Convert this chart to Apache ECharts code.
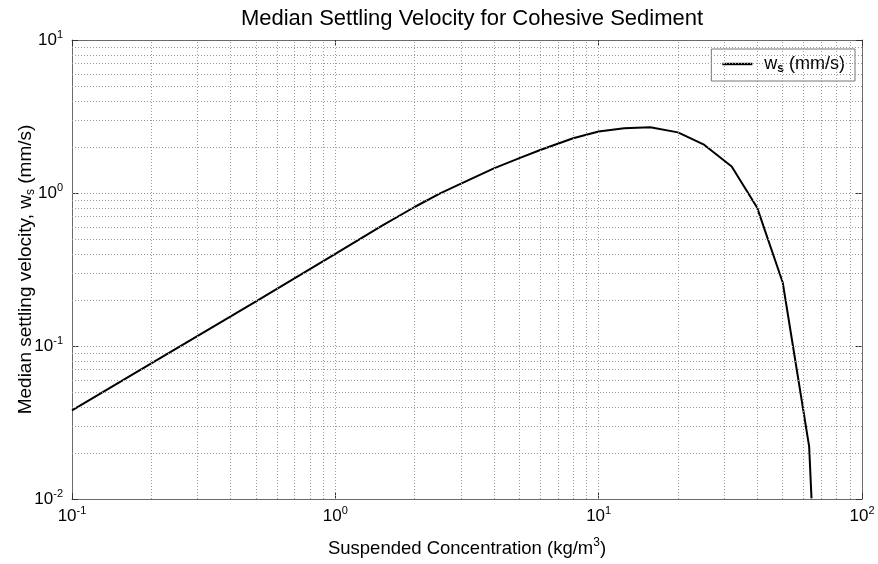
<!DOCTYPE html>
<html>
<head>
<meta charset="utf-8">
<script src="https://cdn.jsdelivr.net/npm/echarts@6/dist/echarts.min.js"></script>
<style>html,body{margin:0;padding:0;background:#fff;}#c{width:878px;height:564px;}</style>
</head>
<body>
<div id="c"></div>
<script>
// Data
const concentration = [0.1, 0.2, 0.5, 1, 1.5, 2, 2.5, 3, 4, 5, 6, 8, 10, 12.5, 15.7, 20, 25, 32, 40, 50, 63, 64.3];
const settlingVelocity = [0.038, 0.077, 0.196, 0.40, 0.61, 0.81, 0.995, 1.15, 1.45, 1.69, 1.91, 2.28, 2.52, 2.65, 2.69, 2.49, 2.08, 1.49, 0.80, 0.26, 0.022, 0.0101];
const xGridValues = [0.2,0.3,0.4,0.5,0.6,0.7,0.8,0.9,1,2,3,4,5,6,7,8,9,10,20,30,40,50,60,70,80,90];
const yGridValues = [0.02,0.03,0.04,0.05,0.06,0.07,0.08,0.09,0.1,0.2,0.3,0.4,0.5,0.6,0.7,0.8,0.9,1,2,3,4,5,6,7,8,9];

const FONT = 'Liberation Sans';
const chart = echarts.init(document.getElementById('c'), null, {renderer: 'canvas'});

function powLabel(v) {
  const e = Math.round(Math.log10(v));
  return '{b|10}{s|' + e + '}';
}
const labelRich = {
  b: {fontFamily: FONT, fontSize: 17, color: '#000'},
  s: {fontFamily: FONT, fontSize: 11, color: '#000', verticalAlign: 'bottom', padding: [0, 0, 11, 0]}
};
const frameColor = '#6a6a6a';

const gridLines = [];
xGridValues.forEach(v => gridLines.push({xAxis: v}));
yGridValues.forEach(v => gridLines.push({yAxis: v}));

const option = {
  animation: false,
  backgroundColor: '#fff',
  title: {
    text: 'Median Settling Velocity for Cohesive Sediment',
    left: 467, textAlign: 'center', top: 3,
    textStyle: {fontFamily: FONT, fontSize: 22, fontWeight: 'normal', color: '#000'}
  },
  grid: {left: 72, right: 16, top: 40, bottom: 65, containLabel: false, outerBoundsMode: 'none'},
  legend: {
    right: 23, top: 49,
    orient: 'vertical',
    backgroundColor: '#fff',
    borderColor: '#777', borderWidth: 1,
    padding: [6, 10, 6, 11],
    icon: 'path://M0,0 L30,0 L30,2.4 L0,2.4 Z',
    itemWidth: 30, itemHeight: 3,
    itemStyle: {color: '#000', borderColor: '#000', borderWidth: 0, borderType: 'solid', decal: 'none'},
    lineStyle: {type: 'solid', color: '#000', width: 2},
    formatter: function () { return '{g|}{a|w}{b|s}{a| (mm/s)}'; },
    textStyle: {
      fontFamily: FONT, fontSize: 18, color: '#000',
      rich: {
        g: {width: 7},
        a: {fontFamily: FONT, fontSize: 18, color: '#000'},
        b: {fontFamily: FONT, fontSize: 12, color: '#000', fontWeight: 'bold', verticalAlign: 'top', padding: [10, 0, 0, 0]}
      }
    },
    data: ['ws']
  },
  xAxis: [{
    type: 'log', logBase: 10, min: 0.1, max: 100,
    name: 'Suspended Concentration (kg/m{s|3})',
    nameLocation: 'middle', nameGap: 38, nameMoveOverlap: false,
    nameTextStyle: {fontFamily: FONT, fontSize: 18.5, color: '#000',
      rich: {s: {fontFamily: FONT, fontSize: 12, verticalAlign: 'bottom', padding: [0,0,11,0]}}},
    axisLine: {show: true, lineStyle: {color: frameColor, width: 1}},
    axisTick: {show: true, inside: true, length: 6, lineStyle: {color: '#333'}},
    minorTick: {show: false},
    axisLabel: {formatter: powLabel, rich: labelRich, margin: 6},
    splitLine: {show: false}
  }, {
    type: 'log', logBase: 10, min: 0.1, max: 100, position: 'top',
    axisLine: {show: true, lineStyle: {color: frameColor, width: 1}},
    axisTick: {show: true, inside: true, length: 6, lineStyle: {color: '#333'}},
    axisLabel: {show: false}, splitLine: {show: false}
  }],
  yAxis: [{
    type: 'log', logBase: 10, min: 0.01, max: 10,
    name: 'Median settling velocity, w{s|s} (mm/s)',
    nameLocation: 'middle', nameGap: 35, nameMoveOverlap: false,
    nameTextStyle: {fontFamily: FONT, fontSize: 19, color: '#000',
      rich: {s: {fontFamily: FONT, fontSize: 12, verticalAlign: 'top', padding: [11,0,0,0]}}},
    axisLine: {show: true, lineStyle: {color: frameColor, width: 1}},
    axisTick: {show: true, inside: true, length: 6, lineStyle: {color: '#333'}},
    axisLabel: {formatter: powLabel, rich: labelRich, margin: 9},
    splitLine: {show: false}
  }, {
    type: 'log', logBase: 10, min: 0.01, max: 10, position: 'right',
    axisLine: {show: true, lineStyle: {color: frameColor, width: 1}},
    axisTick: {show: true, inside: true, length: 6, lineStyle: {color: '#333'}},
    axisLabel: {show: false}, splitLine: {show: false}
  }],
  series: [{
    name: 'ws',
    type: 'line',
    xAxisIndex: 0, yAxisIndex: 0,
    data: concentration.map((x, i) => [x, settlingVelocity[i]]),
    symbol: 'none',
    clip: true,
    lineStyle: {color: '#000', width: 2},
    itemStyle: {color: '#000'},
    markLine: {
      silent: true, symbol: 'none', animation: false,
      label: {show: false},
      lineStyle: {type: [1, 2], color: '#9a9a9a', width: 1},
      data: gridLines
    },
    z: 3
  }]
};
chart.setOption(option);
</script>
</body>
</html>
